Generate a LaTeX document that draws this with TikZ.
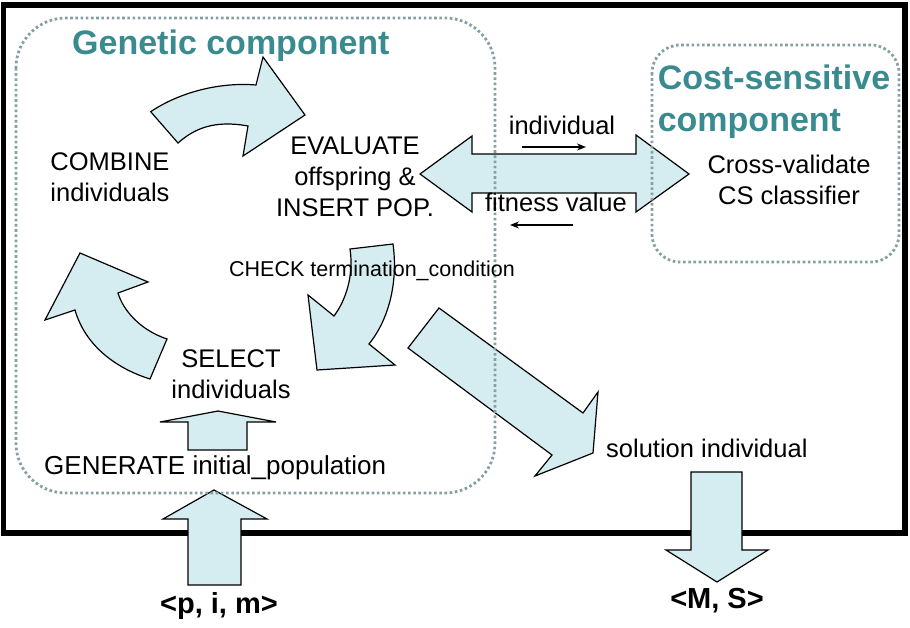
\documentclass[tikz,border=0pt]{standalone}
\usepackage{fontspec}
\setmainfont{Liberation Sans}
\usetikzlibrary{arrows.meta}
\definecolor{arrowfill}{RGB}{213,237,241}
\definecolor{frameteal}{RGB}{132,160,163}
\definecolor{titleteal}{RGB}{58,139,143}
\begin{document}
\begin{tikzpicture}[x=1pt,y=-1pt,>={Stealth[length=9pt,width=7pt]},
  blk/.style={draw=black,fill=arrowfill,line width=1.2pt,line join=miter},
  comp/.style={draw=frameteal,line width=2.8pt,dash pattern=on 2.6pt off 2.6pt},
  lbl/.style={inner sep=0pt,align=center,font=\fontsize{25.5}{31}\selectfont},
  ttl/.style={inner sep=0pt,text=titleteal,font=\fontsize{34}{42}\selectfont\bfseries},
  io/.style={inner sep=0pt,font=\fontsize{29}{34}\selectfont\bfseries}]
\useasboundingbox (0,0) rectangle (910,628);
\draw[line width=5.5pt] (3.5,5) rectangle (905,533);
% block arrows
\draw[blk] (150.7,111.7) .. controls (180,92) and (220,82) .. (256,85) -- (263,57) -- (305,115) -- (243,156) -- (248,126) .. controls (215,120) and (195,128) .. (178,143) -- cycle;
\draw[blk] (80,253) -- (148,282) -- (118,293) .. controls (123,310) and (140,330) .. (167,339) -- (150,379) .. controls (115,368) and (85,345) .. (75,310) -- (45,320) -- cycle;
\draw[blk] (350,249) -- (393,244) .. controls (398,280) and (390,318) .. (369,344) -- (395,365) -- (317,370) -- (308,295) -- (334,316) .. controls (346,300) and (354,275) .. (350,249) -- cycle;
\draw[blk] (439,308) -- (583,413) -- (598,392) -- (593,453) -- (535,476) -- (552,455) -- (408,348) -- cycle;
\draw[blk] (420,174) -- (472,136) -- (472,154) -- (636,154) -- (636,135) -- (689,174) -- (636,212) -- (636,193) -- (472,193) -- (472,212) -- cycle;
\draw[blk] (188,585) -- (188,519) -- (163,519) -- (214,490) -- (267,519) -- (241,519) -- (241,585) -- cycle;
\draw[blk] (188,450) -- (188,422) -- (160,422) -- (218,411) -- (276,422) -- (247,422) -- (247,450) -- cycle;
\draw[blk] (691,472) -- (742,472) -- (742,550) -- (768,550) -- (717,582) -- (666,550) -- (691,550) -- cycle;
% components
\draw[comp,rounded corners=50pt] (16,18) rectangle (495,493);
\draw[comp,rounded corners=28pt] (652,45) rectangle (899,262);
\node[ttl,anchor=base west] (gen) at (72,55) {Genetic component};
\node[ttl,align=left] (cost) at (774,102) {Cost-sensitive\\component};
% steps
\node[lbl] (comb) at (110,177) {COMBINE\\individuals};
\node[lbl] (eval) at (355,177) {EVALUATE\\offspring \&\\INSERT POP.};
\node[lbl,anchor=base west,font=\fontsize{21.5}{26}\selectfont] (chk) at (229,277) {CHECK termination\_condition};
\node[lbl] (sel) at (231,374.5) {SELECT\\individuals};
\node[lbl,anchor=base west,font=\fontsize{26}{31}\selectfont] (gen0) at (44,474) {GENERATE initial\_population};
\node[lbl] (cv) at (789,180) {Cross-validate\\CS classifier};
\node[lbl,anchor=base west] (sol) at (606,457) {solution individual};
\node[lbl,anchor=base] (ind) at (562,135) {individual};
\node[lbl,anchor=base] (fit) at (556,212) {fitness value};
\node[io,anchor=base] (pim) at (219,613) {<p, i, m>};
\node[io,anchor=base] (ms) at (717,608) {<M, S>};
% small arrows
\coordinate (ia) at (522,147);
\coordinate (ib) at (586,147);
\coordinate (fa) at (573,225);
\coordinate (fb) at (510,225);
\draw[->,line width=1.3pt] (ia) -- (ib);
\draw[->,line width=1.3pt] (fa) -- (fb);
\end{tikzpicture}
\end{document}
